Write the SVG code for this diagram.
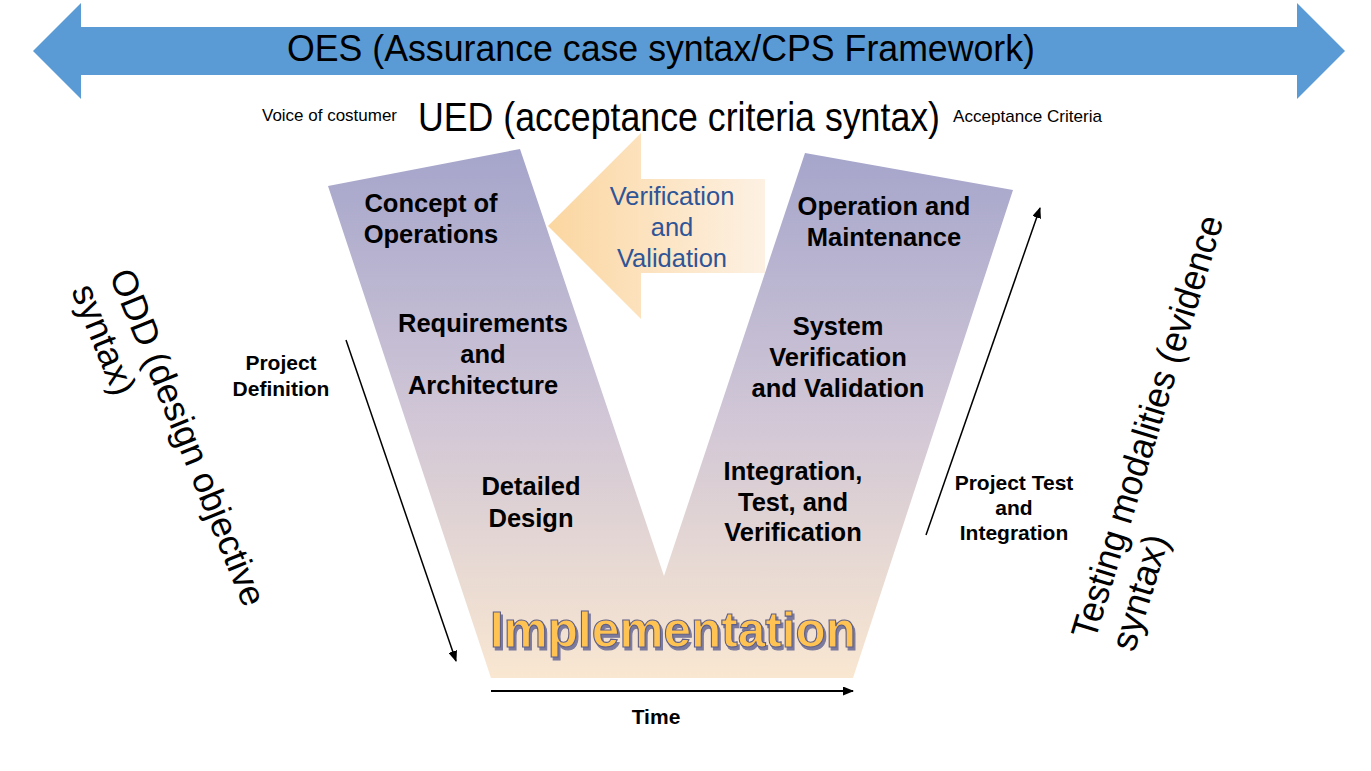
<svg xmlns="http://www.w3.org/2000/svg" width="1371" height="771" viewBox="0 0 1371 771">
<style>
.reg{font-family:"Liberation Sans",Arial,sans-serif;fill:#000}
.bold{font-family:"Liberation Sans",Arial,sans-serif;font-weight:bold;fill:#000;text-anchor:middle}
.node{font-size:25.5px}
.lbl{font-size:21px}
.vv{font-family:"Liberation Sans",Arial,sans-serif;font-size:25.5px;fill:#2F5597;text-anchor:middle}
.conn{stroke:#000;fill:none}
</style>
<defs>
<linearGradient id="vgrad" gradientUnits="userSpaceOnUse" x1="0" y1="150" x2="0" y2="678">
<stop offset="0" stop-color="#A5A5CB"/>
<stop offset="0.5" stop-color="#D0C6D6"/>
<stop offset="1" stop-color="#F9E7D1"/>
</linearGradient>
<linearGradient id="agrad" gradientUnits="userSpaceOnUse" x1="548" y1="0" x2="765" y2="0">
<stop offset="0" stop-color="#FBD6A0"/>
<stop offset="1" stop-color="#FDF1E3"/>
</linearGradient>
<marker id="ah" markerUnits="userSpaceOnUse" markerWidth="11" markerHeight="9" refX="10" refY="4.5" orient="auto">
<path d="M0,0 L11,4.5 L0,9 z" fill="#000"/>
</marker>
<filter id="shadow" x="-5%" y="-20%" width="110%" height="150%">
<feDropShadow dx="2" dy="3" stdDeviation="0.6" flood-color="#6E6E96" flood-opacity="0.9"/>
</filter>
</defs>

<g id="oes-arrow">
<polygon points="33,51 81,3 81,27 1297,27 1297,3 1345,51 1297,99 1297,75 81,75 81,99" fill="#5B9BD5"/>
<text class="reg" x="661" y="61" font-size="36" text-anchor="middle" textLength="748" lengthAdjust="spacingAndGlyphs">OES (Assurance case syntax/CPS Framework)</text>
</g>

<g id="ued">
<text class="reg" x="262" y="121" font-size="17" textLength="135" lengthAdjust="spacingAndGlyphs">Voice of costumer</text>
<text class="reg" transform="translate(418,131) scale(1,1.12)" x="0" y="0" font-size="36" textLength="522" lengthAdjust="spacingAndGlyphs">UED (acceptance criteria syntax)</text>
<text class="reg" x="953" y="122" font-size="17" textLength="149" lengthAdjust="spacingAndGlyphs">Acceptance Criteria</text>
</g>

<g id="v-shape">
<polygon points="328,186 520,149 664,576 805,153 1013,190 853,678 491,678" fill="url(#vgrad)"/>
</g>

<g id="vv-arrow">
<polygon points="548,226 641,133 641,179 765,179 765,273 641,273 641,319" fill="url(#agrad)"/>
<text class="vv" x="672" y="205">Verification</text>
<text class="vv" x="672" y="236">and</text>
<text class="vv" x="672" y="267">Validation</text>
</g>

<g id="concept">
<text class="bold node" x="431" y="212">Concept of</text>
<text class="bold node" x="431" y="243">Operations</text>
</g>
<g id="requirements">
<text class="bold node" x="483" y="332">Requirements</text>
<text class="bold node" x="483" y="363">and</text>
<text class="bold node" x="483" y="394">Architecture</text>
</g>
<g id="detailed">
<text class="bold node" x="531" y="495">Detailed</text>
<text class="bold node" x="531" y="527">Design</text>
</g>
<g id="operation">
<text class="bold node" x="884" y="215">Operation and</text>
<text class="bold node" x="884" y="246">Maintenance</text>
</g>
<g id="system">
<text class="bold node" x="838" y="335">System</text>
<text class="bold node" x="838" y="366">Verification</text>
<text class="bold node" x="838" y="397">and Validation</text>
</g>
<g id="integration">
<text class="bold node" x="793" y="480">Integration,</text>
<text class="bold node" x="793" y="511">Test, and</text>
<text class="bold node" x="793" y="541">Verification</text>
</g>
<g id="implementation">
<text x="673" y="647" font-family="'Liberation Sans',Arial,sans-serif" font-weight="bold" font-size="49.5" text-anchor="middle" fill="#FFC352" stroke="#5F5F88" stroke-width="1.1" filter="url(#shadow)">Implementation</text>
</g>

<g id="connectors">
<line class="conn" x1="346" y1="340" x2="456" y2="661" stroke-width="1.5" marker-end="url(#ah)"/>
<line class="conn" x1="926" y1="535" x2="1040" y2="208" stroke-width="1.5" marker-end="url(#ah)"/>
<line class="conn" x1="491" y1="691" x2="853" y2="691" stroke-width="2" marker-end="url(#ah)"/>
</g>

<g id="labels">
<text class="bold lbl" x="281" y="370">Project</text>
<text class="bold lbl" x="281" y="396">Definition</text>
<text class="bold lbl" x="1014" y="490">Project Test</text>
<text class="bold lbl" x="1014" y="515">and</text>
<text class="bold lbl" x="1014" y="540">Integration</text>
<text class="bold lbl" x="656" y="724">Time</text>
</g>

<g id="odd">
<g transform="translate(109,275) rotate(68)">
<text class="reg" x="0" y="0" font-size="36">ODD (design objective</text>
<text class="reg" x="0" y="41" font-size="36">syntax)</text>
</g>
</g>

<g id="testing">
<g transform="translate(1095,641) rotate(-73)">
<text class="reg" x="0" y="0" font-size="37" textLength="440" lengthAdjust="spacingAndGlyphs">Testing modalities (evidence</text>
<text class="reg" x="0" y="41" font-size="37">syntax)</text>
</g>
</g>
</svg>
